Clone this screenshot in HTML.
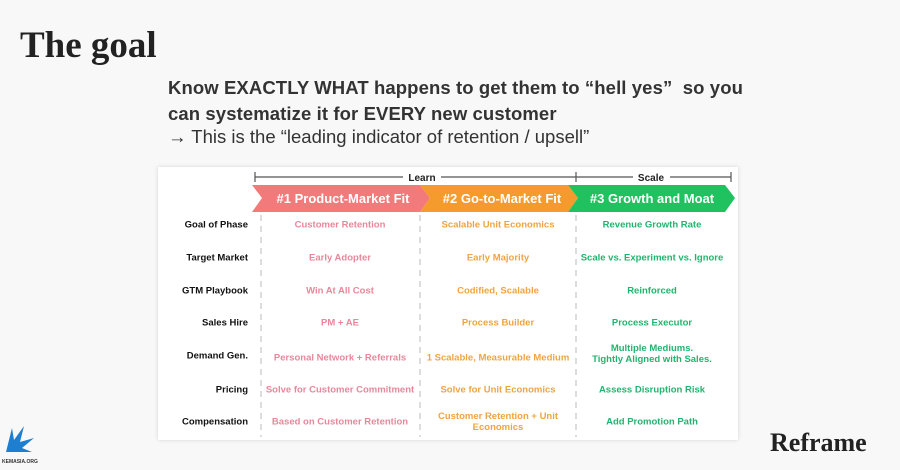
<!DOCTYPE html>
<html><head><style>
body{margin:0;width:900px;height:470px;background:#f8f8f8;position:relative;overflow:hidden;font-family:"Liberation Sans",sans-serif}
.t{position:absolute;white-space:nowrap}
.h{font-family:"Liberation Serif",serif;font-weight:bold;color:#222}
.box{position:absolute;left:158px;top:167px;width:580px;height:273px;background:#fff;box-shadow:0 0 4px rgba(0,0,0,.15)}
.lbl{position:absolute;right:490px;font-size:9.5px;font-weight:bold;color:#111;white-space:nowrap;transform:translateY(-50%)}
.c{position:absolute;font-size:9.5px;font-weight:bold;text-align:center;transform:translate(-50%,-50%);line-height:11px;white-space:nowrap}
.p{color:#e8879a}.o{color:#f0a440}.g{color:#22b46e}
</style></head><body>
<div class="t h" style="left:20px;top:24px;font-size:37px">The goal</div>
<div class="t" style="left:168px;top:75px;font-size:18.5px;font-weight:bold;color:#333;line-height:26px;letter-spacing:0.1px">Know EXACTLY WHAT happens to get them to “hell yes”&nbsp; so you<br>can systematize it for EVERY new customer</div>
<div class="t" style="left:168px;top:126px;font-size:18.5px;color:#333">→ This is the “leading indicator of retention / upsell”</div>
<div class="box">
<svg width="580" height="273" style="position:absolute;left:0;top:0">
<g stroke="#555" stroke-width="1.2">
<line x1="97" y1="10" x2="245" y2="10"/><line x1="283" y1="10" x2="418" y2="10"/><line x1="97" y1="5" x2="97" y2="15"/>
<line x1="418" y1="5" x2="418" y2="15"/><line x1="418" y1="10" x2="475" y2="10"/><line x1="512" y1="10" x2="573" y2="10"/><line x1="573" y1="5" x2="573" y2="15"/>
</g>
<text x="264" y="14" font-size="10" font-weight="bold" text-anchor="middle" fill="#222">Learn</text>
<text x="493" y="14" font-size="10" font-weight="bold" text-anchor="middle" fill="#222">Scale</text>
<polygon points="94,18 262,18 272,31 262,45 94,45 104,31" fill="#f27a7a"/>
<polygon points="262,18 410,18 420,31 410,45 262,45 272,31" fill="#f59a2c"/>
<polygon points="410,18 567,18 577,31 567,45 410,45 420,31" fill="#1fc25e"/>
<text x="185" y="36" font-size="13" font-weight="bold" text-anchor="middle" fill="#fff">#1 Product-Market Fit</text>
<text x="344" y="36" font-size="13" font-weight="bold" text-anchor="middle" fill="#fff">#2 Go-to-Market Fit</text>
<text x="494" y="36" font-size="13" font-weight="bold" text-anchor="middle" fill="#fff">#3 Growth and Moat</text>
<g stroke="#bbb" stroke-width="1" stroke-dasharray="6,5">
<line x1="103" y1="48" x2="103" y2="270"/><line x1="262" y1="48" x2="262" y2="270"/><line x1="418" y1="48" x2="418" y2="270"/>
</g>
</svg>
<div class="lbl" style="top:58px">Goal of Phase</div>
<div class="lbl" style="top:91px">Target Market</div>
<div class="lbl" style="top:124px">GTM Playbook</div>
<div class="lbl" style="top:156px">Sales Hire</div>
<div class="lbl" style="top:189px">Demand Gen.</div>
<div class="lbl" style="top:223px">Pricing</div>
<div class="lbl" style="top:255px">Compensation</div>
<div class="c p" style="left:182px;top:58px">Customer Retention</div>
<div class="c p" style="left:182px;top:91px">Early Adopter</div>
<div class="c p" style="left:182px;top:124px">Win At All Cost</div>
<div class="c p" style="left:182px;top:156px">PM + AE</div>
<div class="c p" style="left:182px;top:191px">Personal Network + Referrals</div>
<div class="c p" style="left:182px;top:223px">Solve for Customer Commitment</div>
<div class="c p" style="left:182px;top:255px">Based on Customer Retention</div>
<div class="c o" style="left:340px;top:58px">Scalable Unit Economics</div>
<div class="c o" style="left:340px;top:91px">Early Majority</div>
<div class="c o" style="left:340px;top:124px">Codified, Scalable</div>
<div class="c o" style="left:340px;top:156px">Process Builder</div>
<div class="c o" style="left:340px;top:191px">1 Scalable, Measurable Medium</div>
<div class="c o" style="left:340px;top:223px">Solve for Unit Economics</div>
<div class="c o" style="left:340px;top:255px">Customer Retention + Unit<br>Economics</div>
<div class="c g" style="left:494px;top:58px">Revenue Growth Rate</div>
<div class="c g" style="left:494px;top:91px">Scale vs. Experiment vs. Ignore</div>
<div class="c g" style="left:494px;top:124px">Reinforced</div>
<div class="c g" style="left:494px;top:156px">Process Executor</div>
<div class="c g" style="left:494px;top:187px">Multiple Mediums.<br>Tightly Aligned with Sales.</div>
<div class="c g" style="left:494px;top:223px">Assess Disruption Risk</div>
<div class="c g" style="left:494px;top:255px">Add Promotion Path</div>
</div>
<svg width="40" height="40" style="position:absolute;left:2px;top:422px"><path d="M4 30 L10 6 L12 18 L22 4 L18 20 L32 16 L20 26 L30 30 Z" fill="#1e7fd0"/></svg>
<div class="t" style="left:2px;top:459px;font-size:5px;font-weight:bold;color:#333">KEMASIA.ORG</div>
<div class="t h" style="left:770px;top:428px;font-size:26px">Reframe</div>
</body></html>
